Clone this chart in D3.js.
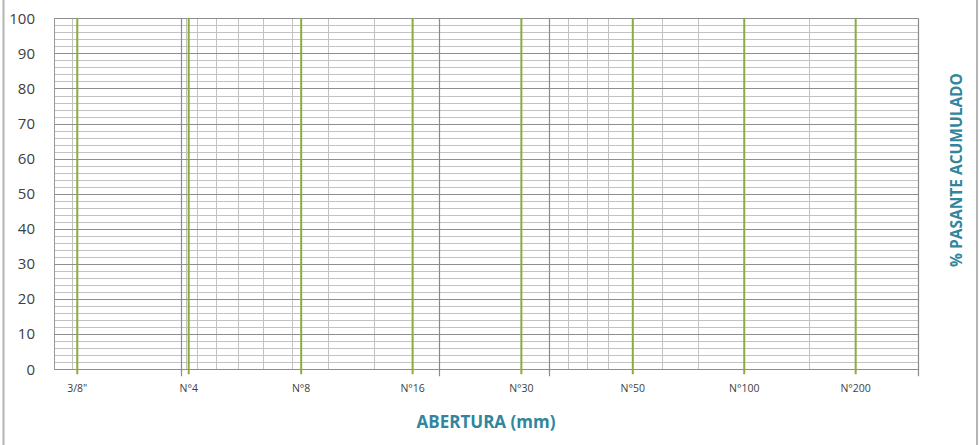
<!DOCTYPE html>
<html><head><meta charset="utf-8">
<script src="https://cdn.jsdelivr.net/npm/d3@7"></script>
<style>body{margin:0;background:#fff;overflow:hidden}</style>
</head><body>
<svg id="c" width="979" height="445"></svg>
<script>
// ---- data ----
const sieveLabels = ["3/8\"", "N°4", "N°8", "N°16", "N°30", "N°50", "N°100", "N°200"];
const sieveSizes  = [9.5, 4.75, 2.36, 1.18, 0.6, 0.3, 0.15, 0.075];
const minorGridX  = [9.84, 4.82, 4.5, 4, 3.5, 3, 2.5, 2, 1.5, 0.45, 0.4, 0.35, 0.302, 0.25, 0.2, 0.1];
const majorGridX  = [4.97, 1, 0.505];
const xDomain     = [10.98, 0.0509];
const yTicks      = [0, 10, 20, 30, 40, 50, 60, 70, 80, 90, 100];
const yMinorTicks = d3.range(0, 101, 2);
const xTitle = "ABERTURA (mm)";
const yTitle = "% PASANTE ACUMULADO";

// ---- layout ----
const L = 54, R = 918, T = 18.3, B = 369.3;
const svg = d3.select("#c");
const x = d3.scaleLog().domain(xDomain).range([L, R]);
const y = d3.scaleLinear().domain([0, 100]).range([B, T]);
const px = v => Math.round(x(v)) + 0.5;
const py = v => Math.round(y(v)) + 0.5;

// outer frame (left/right)
svg.append("line").attr("x1", 3.5).attr("x2", 3.5).attr("y1", 0).attr("y2", 445)
  .attr("stroke", "#b4b4b4").attr("stroke-width", 2);
svg.append("line").attr("x1", 977).attr("x2", 977).attr("y1", 0).attr("y2", 445)
  .attr("stroke", "#b4b4b4").attr("stroke-width", 2);

const g = svg.append("g");
// minor horizontal
g.selectAll(".hmin").data(yMinorTicks.filter(d => d % 10 !== 0)).join("line")
  .attr("x1", L).attr("x2", R).attr("y1", py).attr("y2", py)
  .attr("stroke", "#c2c2c2").attr("stroke-width", 1);
// minor vertical
g.selectAll(".vmin").data(minorGridX).join("line")
  .attr("x1", px).attr("x2", px).attr("y1", T).attr("y2", B)
  .attr("stroke", "#c2c2c2").attr("stroke-width", 1);
// major horizontal
g.selectAll(".hmaj").data(yTicks).join("line")
  .attr("x1", L).attr("x2", R).attr("y1", py).attr("y2", py)
  .attr("stroke", "#8e8e8e").attr("stroke-width", 1);
// left axis line
g.append("line").attr("x1", L + 0.5).attr("x2", L + 0.5).attr("y1", T).attr("y2", B)
  .attr("stroke", "#9a9a9a").attr("stroke-width", 1);
// major vertical (with tick extension), including right boundary
g.selectAll(".vmaj").data(majorGridX.concat([xDomain[1]])).join("line")
  .attr("x1", px).attr("x2", px).attr("y1", T).attr("y2", B + 7)
  .attr("stroke", "#8a8a8a").attr("stroke-width", 1.2);
// sieve lines (green)
g.selectAll(".sieve").data(sieveSizes).join("line")
  .attr("x1", d => x(d)).attr("x2", d => x(d)).attr("y1", T).attr("y2", B + 5)
  .attr("stroke", "#8aad3e").attr("stroke-width", 2);

// y tick labels
svg.selectAll(".ylab").data(yTicks).join("text")
  .attr("x", 35).attr("y", d => y(d)).attr("dy", "0.35em")
  .attr("text-anchor", "end")
  .attr("font-family", "Open Sans, sans-serif").attr("font-size", 15)
  .attr("fill", "#404040").text(d => d);

// x tick labels
svg.selectAll(".xlab").data(sieveSizes).join("text")
  .attr("x", d => x(d)).attr("y", 392)
  .attr("text-anchor", "middle")
  .attr("font-family", "Open Sans, sans-serif").attr("font-size", 10.5)
  .attr("fill", "#404040").text((d, i) => sieveLabels[i]);

// titles
svg.append("text").attr("x", 486).attr("y", 428).attr("text-anchor", "middle")
  .attr("font-family", "Open Sans, sans-serif").attr("font-weight", "bold")
  .attr("font-size", 17).attr("fill", "#31859C").text(xTitle);
svg.append("text").attr("transform", "translate(962,170) rotate(-90)")
  .attr("text-anchor", "middle")
  .attr("font-family", "Open Sans, sans-serif").attr("font-weight", "bold")
  .attr("font-size", 15.5).attr("fill", "#31859C").text(yTitle);
</script>
</body></html>
